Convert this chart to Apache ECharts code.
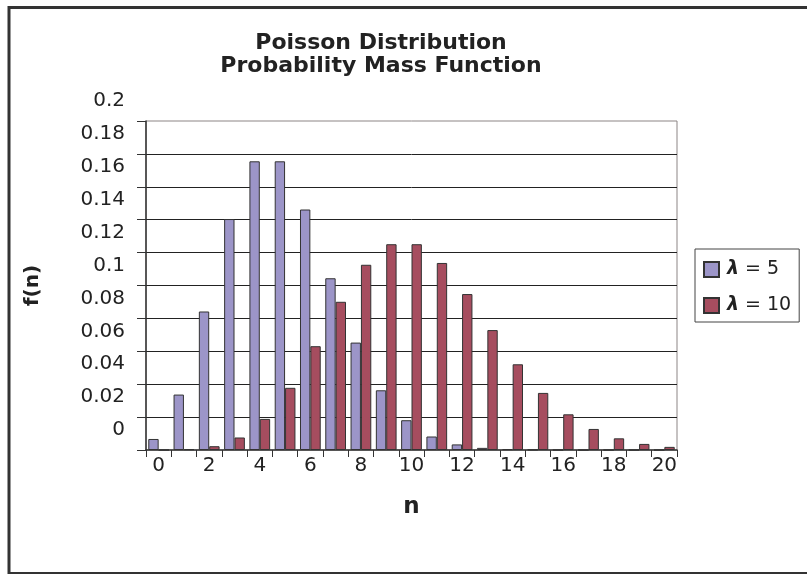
<!DOCTYPE html>
<html>
<head>
<meta charset="utf-8">
<title>Poisson Distribution</title>
<script src="https://cdn.jsdelivr.net/npm/echarts@6/dist/echarts.min.js"></script>
<style>
  html, body { margin: 0; padding: 0; background: #ffffff; }
  #chart { width: 807px; height: 574px; }
</style>
</head>
<body>
<div id="chart"></div>
<script>
// Outcomes n = 0..20
const categories = ['0', '1', '2', '3', '4', '5', '6', '7', '8', '9', '10',
  '11', '12', '13', '14', '15', '16', '17', '18', '19', '20'];

// f(n) for lambda = 5
const lambda5 = [0.0067, 0.0337, 0.0842, 0.1404, 0.1755, 0.1755, 0.1462, 0.1044,
  0.0653, 0.0363, 0.0181, 0.0082, 0.0034, 0.0013, 0.0005, 0.0002, 0.0000,
  0.0000, 0.0000, 0.0000, 0.0000];

// f(n) for lambda = 10
const lambda10 = [0.0000, 0.0005, 0.0023, 0.0076, 0.0189, 0.0378, 0.0631, 0.0901,
  0.1126, 0.1251, 0.1251, 0.1137, 0.0948, 0.0729, 0.0521, 0.0347, 0.0217,
  0.0128, 0.0071, 0.0037, 0.0019];

const seriesNames = ['λ = 5', 'λ = 10'];
const titleLines = ['Poisson Distribution', 'Probability Mass Function'];

const FONT = 'DejaVu Sans';
const TEXT = '#222222';
const AXIS = '#333333';

// plot area (px)
const PLOT = { left: 146, top: 121, right: 130, bottom: 124 };
// the value labels are printed this far above their gridlines
const LABEL_LIFT = 20;

const chart = echarts.init(document.getElementById('chart'), null, { renderer: 'canvas' });

chart.setOption({
  backgroundColor: '#ffffff',
  animation: false,
  textStyle: { fontFamily: FONT, color: TEXT },
  title: {
    text: titleLines.join('\n'),
    left: 376,
    top: 27,
    textAlign: 'center',
    textStyle: {
      fontFamily: FONT,
      fontWeight: 'bold',
      fontSize: 22,
      lineHeight: 23,
      color: TEXT
    }
  },
  legend: {
    orient: 'vertical',
    left: 695,
    top: 249,
    padding: [11, 8, 7, 8],
    itemGap: 17,
    itemWidth: 15,
    itemHeight: 15,
    icon: 'rect',
    borderColor: '#444444',
    borderWidth: 1,
    data: seriesNames,
    formatter: function (name) {
      return '{l|λ}' + name.slice(1);
    },
    textStyle: {
      fontFamily: FONT,
      fontSize: 19,
      color: TEXT,
      rich: {
        l: {
          fontFamily: FONT,
          fontSize: 19,
          fontWeight: 'bold',
          fontStyle: 'italic',
          color: TEXT,
          padding: [0, 0, 0, 3]
        }
      }
    }
  },
  grid: [
    {
      left: PLOT.left,
      top: PLOT.top,
      right: PLOT.right,
      bottom: PLOT.bottom,
      containLabel: false,
      outerBoundsMode: 'none',
      show: true,
      backgroundColor: 'transparent',
      borderColor: '#8c8585',
      borderWidth: 1
    },
    {
      // carries only the value labels of the f(n) axis
      left: PLOT.left,
      top: PLOT.top - LABEL_LIFT,
      right: PLOT.right,
      bottom: PLOT.bottom + LABEL_LIFT,
      containLabel: false,
      outerBoundsMode: 'none',
      show: false
    }
  ],
  xAxis: [
    {
      type: 'category',
      gridIndex: 0,
      data: categories,
      boundaryGap: true,
      name: 'n',
      nameLocation: 'middle',
      nameGap: 46,
      nameTextStyle: { fontFamily: FONT, fontWeight: 'bold', fontSize: 23, color: TEXT },
      axisLine: { show: true, lineStyle: { color: AXIS, width: 1.5 } },
      axisTick: { show: true, interval: 0, alignWithLabel: false, length: 7, lineStyle: { color: AXIS } },
      axisLabel: { interval: 1, margin: 6, fontFamily: FONT, fontSize: 20, color: TEXT },
      splitLine: { show: false }
    },
    {
      type: 'value',
      gridIndex: 1,
      show: false
    }
  ],
  yAxis: [
    {
      type: 'value',
      gridIndex: 0,
      min: 0,
      max: 0.2,
      interval: 0.02,
      name: 'f(n)',
      nameLocation: 'middle',
      nameGap: 103,
      nameRotate: 90,
      nameTextStyle: { fontFamily: FONT, fontWeight: 'bold', fontSize: 20, color: TEXT },
      axisLine: { show: true, lineStyle: { color: AXIS, width: 1.5 } },
      axisTick: { show: true, length: 9, lineStyle: { color: AXIS } },
      axisLabel: { show: false },
      splitLine: { show: true, showMinLine: false, showMaxLine: false, lineStyle: { color: '#222222', width: 1 } }
    },
    {
      type: 'value',
      gridIndex: 1,
      min: 0,
      max: 0.2,
      interval: 0.02,
      axisLine: { show: false },
      axisTick: { show: false },
      splitLine: { show: false },
      axisLabel: {
        show: true,
        margin: 21,
        fontFamily: FONT,
        fontSize: 20,
        color: TEXT,
        showMinLabel: true,
        showMaxLabel: true
      }
    }
  ],
  series: [
    {
      name: seriesNames[0],
      type: 'bar',
      xAxisIndex: 0,
      yAxisIndex: 0,
      data: lambda5,
      barGap: '0%',
      barCategoryGap: '18%',
      itemStyle: { color: '#9c95c8', borderColor: '#333333', borderWidth: 1 }
    },
    {
      name: seriesNames[1],
      type: 'bar',
      xAxisIndex: 0,
      yAxisIndex: 0,
      data: lambda10,
      barGap: '0%',
      barCategoryGap: '18%',
      itemStyle: { color: '#a64d5f', borderColor: '#333333', borderWidth: 1 }
    }
  ],
  graphic: [
    {
      type: 'rect',
      silent: true,
      z: 100,
      shape: { x: 9, y: 7.5, width: 830, height: 566 },
      style: { fill: 'none', stroke: '#333333', lineWidth: 3 }
    }
  ]
});
</script>
</body>
</html>
